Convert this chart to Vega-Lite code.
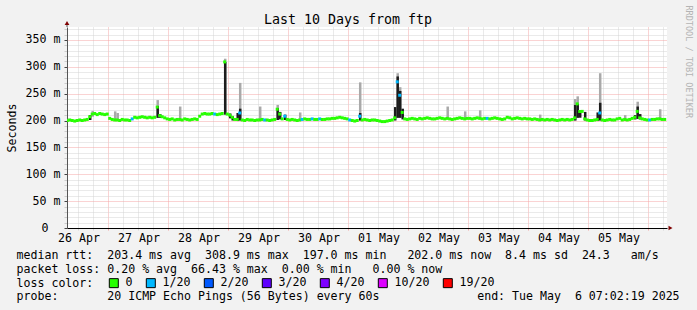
{
  "$schema": "https://vega.github.io/schema/vega-lite/v6.json",
  "width": 600,
  "height": 201,
  "autosize": {"type": "none"},
  "padding": {"left": 67, "top": 27, "right": 30, "bottom": 82},
  "background": "#f2f2f2",
  "config": {"view": {"stroke": null, "fill": "#ffffff"}, "font": "DejaVu Sans Mono"},
  "title": {"text": "Last 10 Days from ftp", "fontSize": 13.3, "fontWeight": "normal", "color": "#000000", "anchor": "middle", "dx": -19, "baseline": "alphabetic", "offset": -32},
  "data": {
    "format": {"parse": {"t": "utc:'%Y-%m-%d %H'"}},
    "values": [
      {"t":"2025-04-26 07","m":200,"l":"0"},{"t":"2025-04-26 08","m":201,"l":"0"},{"t":"2025-04-26 09","m":200,"l":"0"},{"t":"2025-04-26 10","m":199,"l":"0"},
      {"t":"2025-04-26 11","m":200,"l":"0"},{"t":"2025-04-26 12","m":201,"l":"0"},{"t":"2025-04-26 13","m":200,"l":"0"},{"t":"2025-04-26 14","m":201,"l":"0"},
      {"t":"2025-04-26 15","m":202,"l":"0"},{"t":"2025-04-26 16","m":207,"l":"0","lo":201,"d":210},{"t":"2025-04-26 17","m":212,"l":"0","lo":207,"g":218},
      {"t":"2025-04-26 18","m":213,"l":"0"},{"t":"2025-04-26 19","m":211,"l":"0"},{"t":"2025-04-26 20","m":213,"l":"0"},{"t":"2025-04-26 21","m":212,"l":"0"},
      {"t":"2025-04-26 22","m":211,"l":"0"},{"t":"2025-04-26 23","m":212,"l":"0"},
      {"t":"2025-04-27 00","m":204,"l":"0"},{"t":"2025-04-27 01","m":202,"l":"0"},{"t":"2025-04-27 02","m":201,"l":"0","lo":200,"g":217},{"t":"2025-04-27 03","m":201,"l":"0","lo":200,"g":214},
      {"t":"2025-04-27 04","m":200,"l":"0"},{"t":"2025-04-27 05","m":202,"l":"0"},{"t":"2025-04-27 06","m":201,"l":"0"},{"t":"2025-04-27 07","m":201,"l":"0"},
      {"t":"2025-04-27 08","m":200,"l":"0"},{"t":"2025-04-27 09","m":203,"l":"1/20"},{"t":"2025-04-27 10","m":206,"l":"0"},{"t":"2025-04-27 11","m":205,"l":"0"},
      {"t":"2025-04-27 12","m":206,"l":"0"},{"t":"2025-04-27 13","m":207,"l":"0"},{"t":"2025-04-27 14","m":206,"l":"0"},{"t":"2025-04-27 15","m":205,"l":"0"},
      {"t":"2025-04-27 16","m":206,"l":"0"},{"t":"2025-04-27 17","m":205,"l":"0"},{"t":"2025-04-27 18","m":206,"l":"0"},{"t":"2025-04-27 19","m":225,"l":"0","lo":205,"d":227,"g":238},
      {"t":"2025-04-27 20","m":209,"l":"0","lo":205,"d":212},{"t":"2025-04-27 21","m":207,"l":"0"},{"t":"2025-04-27 22","m":205,"l":"0"},{"t":"2025-04-27 23","m":203,"l":"0"},
      {"t":"2025-04-28 00","m":202,"l":"0"},{"t":"2025-04-28 01","m":203,"l":"0"},{"t":"2025-04-28 02","m":201,"l":"0"},{"t":"2025-04-28 03","m":202,"l":"0"},
      {"t":"2025-04-28 04","m":202,"l":"0","lo":201,"g":226},{"t":"2025-04-28 05","m":201,"l":"0"},{"t":"2025-04-28 06","m":203,"l":"0"},{"t":"2025-04-28 07","m":202,"l":"0"},
      {"t":"2025-04-28 08","m":201,"l":"0"},{"t":"2025-04-28 09","m":202,"l":"0"},{"t":"2025-04-28 10","m":203,"l":"0"},{"t":"2025-04-28 11","m":202,"l":"0"},
      {"t":"2025-04-28 12","m":208,"l":"0"},{"t":"2025-04-28 13","m":212,"l":"0"},{"t":"2025-04-28 14","m":213,"l":"0"},{"t":"2025-04-28 15","m":212,"l":"0"},
      {"t":"2025-04-28 16","m":212,"l":"0"},{"t":"2025-04-28 17","m":213,"l":"0"},{"t":"2025-04-28 18","m":212,"l":"1/20"},{"t":"2025-04-28 19","m":211,"l":"0"},
      {"t":"2025-04-28 20","m":212,"l":"0"},{"t":"2025-04-28 21","m":213,"l":"0"},{"t":"2025-04-28 22","m":309,"l":"0","lo":211,"d":309,"g":315},{"t":"2025-04-28 23","m":212,"l":"0"},
      {"t":"2025-04-29 00","m":210,"l":"0","lo":204,"d":213},{"t":"2025-04-29 01","m":206,"l":"0","lo":200,"d":208},{"t":"2025-04-29 02","m":202,"l":"0"},{"t":"2025-04-29 03","m":202,"l":"0","lo":199,"d":214},
      {"t":"2025-04-29 04","m":214,"l":"1/20","lo":200,"d":222,"g":270},{"t":"2025-04-29 05","m":201,"l":"0"},{"t":"2025-04-29 06","m":200,"l":"0"},{"t":"2025-04-29 07","m":202,"l":"0"},
      {"t":"2025-04-29 08","m":201,"l":"0"},{"t":"2025-04-29 09","m":201,"l":"0"},{"t":"2025-04-29 10","m":200,"l":"0"},{"t":"2025-04-29 11","m":201,"l":"0"},
      {"t":"2025-04-29 12","m":201,"l":"0","lo":200,"g":226},{"t":"2025-04-29 13","m":202,"l":"0"},{"t":"2025-04-29 14","m":201,"l":"1/20"},{"t":"2025-04-29 15","m":201,"l":"0"},
      {"t":"2025-04-29 16","m":200,"l":"0"},{"t":"2025-04-29 17","m":201,"l":"0"},{"t":"2025-04-29 18","m":202,"l":"0"},{"t":"2025-04-29 19","m":221,"l":"0","lo":201,"d":223,"g":229},
      {"t":"2025-04-29 20","m":212,"l":"0","lo":202,"d":216},{"t":"2025-04-29 21","m":203,"l":"0"},{"t":"2025-04-29 22","m":208,"l":"1/20","lo":201,"d":211},{"t":"2025-04-29 23","m":202,"l":"0"},
      {"t":"2025-04-30 00","m":201,"l":"0"},{"t":"2025-04-30 01","m":202,"l":"0"},{"t":"2025-04-30 02","m":201,"l":"0"},{"t":"2025-04-30 03","m":200,"l":"0"},
      {"t":"2025-04-30 04","m":201,"l":"0","lo":200,"g":215},{"t":"2025-04-30 05","m":202,"l":"1/20"},{"t":"2025-04-30 06","m":203,"l":"0"},{"t":"2025-04-30 07","m":202,"l":"0"},
      {"t":"2025-04-30 08","m":202,"l":"0"},{"t":"2025-04-30 09","m":203,"l":"1/20"},{"t":"2025-04-30 10","m":202,"l":"0"},{"t":"2025-04-30 11","m":202,"l":"0"},
      {"t":"2025-04-30 12","m":203,"l":"1/20"},{"t":"2025-04-30 13","m":202,"l":"0"},{"t":"2025-04-30 14","m":202,"l":"0"},{"t":"2025-04-30 15","m":203,"l":"0"},
      {"t":"2025-04-30 16","m":203,"l":"0"},{"t":"2025-04-30 17","m":204,"l":"0"},{"t":"2025-04-30 18","m":204,"l":"0"},{"t":"2025-04-30 19","m":205,"l":"0"},
      {"t":"2025-04-30 20","m":206,"l":"0"},{"t":"2025-04-30 21","m":205,"l":"0"},{"t":"2025-04-30 22","m":204,"l":"0"},{"t":"2025-04-30 23","m":203,"l":"0"},
      {"t":"2025-05-01 00","m":201,"l":"1/20"},{"t":"2025-05-01 01","m":200,"l":"0"},{"t":"2025-05-01 02","m":199,"l":"0"},{"t":"2025-05-01 03","m":200,"l":"0"},
      {"t":"2025-05-01 04","m":208,"l":"1/20","lo":200,"d":214,"g":271},{"t":"2025-05-01 05","m":201,"l":"0"},{"t":"2025-05-01 06","m":202,"l":"0"},{"t":"2025-05-01 07","m":201,"l":"0"},
      {"t":"2025-05-01 08","m":200,"l":"0"},{"t":"2025-05-01 09","m":201,"l":"0"},{"t":"2025-05-01 10","m":201,"l":"0"},{"t":"2025-05-01 11","m":200,"l":"0"},
      {"t":"2025-05-01 12","m":199,"l":"0"},{"t":"2025-05-01 13","m":198,"l":"0"},{"t":"2025-05-01 14","m":198,"l":"0"},{"t":"2025-05-01 15","m":199,"l":"0"},
      {"t":"2025-05-01 16","m":200,"l":"0"},{"t":"2025-05-01 17","m":201,"l":"0"},{"t":"2025-05-01 18","m":205,"l":"0","lo":200,"d":225},{"t":"2025-05-01 19","m":272,"l":"1/20","lo":205,"d":282,"g":288},
      {"t":"2025-05-01 20","m":247,"l":"1/20","lo":205,"d":255,"g":262},{"t":"2025-05-01 21","m":215,"l":"0","lo":202,"d":222},{"t":"2025-05-01 22","m":203,"l":"0"},{"t":"2025-05-01 23","m":202,"l":"0"},
      {"t":"2025-05-02 00","m":203,"l":"0"},{"t":"2025-05-02 01","m":204,"l":"0"},{"t":"2025-05-02 02","m":203,"l":"0"},{"t":"2025-05-02 03","m":202,"l":"0"},
      {"t":"2025-05-02 04","m":204,"l":"0"},{"t":"2025-05-02 05","m":203,"l":"0"},{"t":"2025-05-02 06","m":204,"l":"0"},{"t":"2025-05-02 07","m":205,"l":"0"},
      {"t":"2025-05-02 08","m":204,"l":"0"},{"t":"2025-05-02 09","m":203,"l":"0"},{"t":"2025-05-02 10","m":203,"l":"0"},{"t":"2025-05-02 11","m":204,"l":"0"},
      {"t":"2025-05-02 12","m":205,"l":"0"},{"t":"2025-05-02 13","m":204,"l":"0"},{"t":"2025-05-02 14","m":203,"l":"0"},{"t":"2025-05-02 15","m":204,"l":"0","lo":202,"g":226},
      {"t":"2025-05-02 16","m":203,"l":"0"},{"t":"2025-05-02 17","m":202,"l":"0"},{"t":"2025-05-02 18","m":203,"l":"0"},{"t":"2025-05-02 19","m":204,"l":"0"},
      {"t":"2025-05-02 20","m":205,"l":"0"},{"t":"2025-05-02 21","m":204,"l":"0"},{"t":"2025-05-02 22","m":203,"l":"0","lo":202,"g":217},{"t":"2025-05-02 23","m":204,"l":"0"},
      {"t":"2025-05-03 00","m":204,"l":"0"},{"t":"2025-05-03 01","m":203,"l":"0"},{"t":"2025-05-03 02","m":204,"l":"0"},{"t":"2025-05-03 03","m":205,"l":"0"},
      {"t":"2025-05-03 04","m":204,"l":"0","lo":202,"g":219},{"t":"2025-05-03 05","m":203,"l":"0"},{"t":"2025-05-03 06","m":204,"l":"0"},{"t":"2025-05-03 07","m":204,"l":"1/20"},
      {"t":"2025-05-03 08","m":203,"l":"0"},{"t":"2025-05-03 09","m":204,"l":"0"},{"t":"2025-05-03 10","m":205,"l":"0"},{"t":"2025-05-03 11","m":204,"l":"0"},
      {"t":"2025-05-03 12","m":203,"l":"0"},{"t":"2025-05-03 13","m":202,"l":"0"},{"t":"2025-05-03 14","m":203,"l":"0"},{"t":"2025-05-03 15","m":206,"l":"0"},
      {"t":"2025-05-03 16","m":205,"l":"0"},{"t":"2025-05-03 17","m":203,"l":"0"},{"t":"2025-05-03 18","m":204,"l":"0"},{"t":"2025-05-03 19","m":205,"l":"0"},
      {"t":"2025-05-03 20","m":204,"l":"0"},{"t":"2025-05-03 21","m":203,"l":"0"},{"t":"2025-05-03 22","m":204,"l":"0"},{"t":"2025-05-03 23","m":203,"l":"0"},
      {"t":"2025-05-04 00","m":203,"l":"0"},{"t":"2025-05-04 01","m":202,"l":"0"},{"t":"2025-05-04 02","m":203,"l":"0"},{"t":"2025-05-04 03","m":202,"l":"0"},
      {"t":"2025-05-04 04","m":201,"l":"0","lo":200,"g":211},{"t":"2025-05-04 05","m":202,"l":"0"},{"t":"2025-05-04 06","m":201,"l":"0"},{"t":"2025-05-04 07","m":202,"l":"0"},
      {"t":"2025-05-04 08","m":201,"l":"0"},{"t":"2025-05-04 09","m":202,"l":"0"},{"t":"2025-05-04 10","m":201,"l":"0"},{"t":"2025-05-04 11","m":200,"l":"0"},
      {"t":"2025-05-04 12","m":201,"l":"0"},{"t":"2025-05-04 13","m":202,"l":"0"},{"t":"2025-05-04 14","m":201,"l":"0"},{"t":"2025-05-04 15","m":202,"l":"0"},
      {"t":"2025-05-04 16","m":201,"l":"0"},{"t":"2025-05-04 17","m":202,"l":"0"},{"t":"2025-05-04 18","m":205,"l":"0","lo":200,"d":229,"g":240},{"t":"2025-05-04 19","m":231,"l":"0","lo":205,"d":231,"g":245},
      {"t":"2025-05-04 20","m":217,"l":"0","lo":205,"d":218},{"t":"2025-05-04 21","m":217,"l":"0"},{"t":"2025-05-04 22","m":203,"l":"0","lo":200,"d":216},{"t":"2025-05-04 23","m":201,"l":"0"},
      {"t":"2025-05-05 00","m":200,"l":"0"},{"t":"2025-05-05 01","m":200,"l":"0"},{"t":"2025-05-05 02","m":201,"l":"0"},{"t":"2025-05-05 03","m":202,"l":"0","lo":199,"d":215},
      {"t":"2025-05-05 04","m":214,"l":"1/20","lo":200,"d":233,"g":288},{"t":"2025-05-05 05","m":201,"l":"0"},{"t":"2025-05-05 06","m":200,"l":"0"},{"t":"2025-05-05 07","m":201,"l":"0"},
      {"t":"2025-05-05 08","m":202,"l":"0"},{"t":"2025-05-05 09","m":201,"l":"0"},{"t":"2025-05-05 10","m":201,"l":"0"},{"t":"2025-05-05 11","m":203,"l":"0"},
      {"t":"2025-05-05 12","m":204,"l":"0"},{"t":"2025-05-05 13","m":201,"l":"0"},{"t":"2025-05-05 14","m":202,"l":"0","lo":200,"g":210},{"t":"2025-05-05 15","m":201,"l":"0"},
      {"t":"2025-05-05 16","m":202,"l":"0"},{"t":"2025-05-05 17","m":204,"l":"0"},{"t":"2025-05-05 18","m":206,"l":"0","lo":202,"d":210},{"t":"2025-05-05 19","m":217,"l":"0","lo":203,"d":226,"g":235},
      {"t":"2025-05-05 20","m":205,"l":"0","lo":202,"d":212},{"t":"2025-05-05 21","m":203,"l":"0"},{"t":"2025-05-05 22","m":202,"l":"0"},{"t":"2025-05-05 23","m":201,"l":"0"},
      {"t":"2025-05-06 00","m":201,"l":"1/20"},{"t":"2025-05-06 01","m":202,"l":"0"},{"t":"2025-05-06 02","m":202,"l":"0"},{"t":"2025-05-06 03","m":203,"l":"0"},
      {"t":"2025-05-06 04","m":203,"l":"0","lo":201,"g":221},{"t":"2025-05-06 05","m":202,"l":"0"},{"t":"2025-05-06 06","m":202,"l":"0"}
    ]
  },
  "layer": [
    {
      "mark": {"type": "bar", "color": "#a9a9a9", "binSpacing": 0, "clip": true},
      "encoding": {
        "x": {
          "field": "t", "type": "temporal", "timeUnit": "utcyearmonthdatehours",
          "scale": {"type": "utc", "domain": [{"year": 2025, "month": 4, "date": 26, "hours": 7, "minutes": 25, "utc": true}, {"year": 2025, "month": 5, "date": 6, "hours": 7, "minutes": 25, "utc": true}]},
          "axis": {
            "orient": "bottom",
            "tickCount": 40,
            "grid": true, "labels": false, "domain": false, "title": null,
            "tickSize": 2,
            "tickColor": {"condition": {"test": "utchours(datum.value) == 0", "value": "#f4a6a6"}, "value": "#d4d4d4"},
            "gridColor": {"condition": {"test": "utchours(datum.value) == 0", "value": "#f4a6a6"}, "value": "#d4d4d4"},
            "gridDash": [1, 1], "gridOpacity": 1
          }
        },
        "y": {
          "field": "g", "type": "quantitative",
          "scale": {"domain": [0, 374], "nice": false, "zero": true},
          "axis": {
            "values": [0,10,20,30,40,50,60,70,80,90,100,110,120,130,140,150,160,170,180,190,200,210,220,230,240,250,260,270,280,290,300,310,320,330,340,350,360,370],
            "labelExpr": "datum.value % 50 ? '' : (datum.value == 0 ? '0' : datum.value + '\u00a0m')",
            "labelFontSize": 11.6, "labelColor": "#000000", "labelOverlap": false,
            "labelPadding": {"condition": {"test": "datum.value == 0", "value": 16}, "value": 4},
            "tickSize": 3,
            "tickColor": {"condition": {"test": "datum.value % 50 == 0", "value": "#444444"}, "value": "#cccccc"},
            "grid": true,
            "gridColor": {"condition": {"test": "datum.value % 50 == 0", "value": "#f4a6a6"}, "value": "#d4d4d4"},
            "gridDash": [1, 1], "gridOpacity": 1,
            "domainColor": "#555555",
            "title": "Seconds", "titleFontSize": 11.6, "titleFontWeight": "normal", "titleColor": "#000000",
            "titleX": -52, "titleY": 100.5, "titleAngle": 270, "titleAlign": "center", "titleBaseline": "alphabetic"
          }
        },
        "y2": {"field": "lo"}
      }
    },
    {
      "mark": {"type": "bar", "color": "#1c1c1c", "binSpacing": 0, "clip": true},
      "encoding": {
        "x": {
          "field": "t", "type": "temporal", "timeUnit": "utcyearmonthdatehours",
          "axis": {
            "orient": "bottom",
            "tickCount": 40,
            "grid": false, "ticks": false, "domain": true, "domainColor": "#000000",
            "labelExpr": "utchours(datum.value) == 12 ? utcFormat(datum.value, '%d %b') : ''",
            "labelOverlap": false, "labelFlush": false, "labelFontSize": 11.6, "labelColor": "#000000", "labelPadding": 4,
            "title": [
              "median\u00a0rtt:\u00a0\u00a0203.4\u00a0ms\u00a0avg\u00a0\u00a0308.9\u00a0ms\u00a0max\u00a0\u00a0197.0\u00a0ms\u00a0min\u00a0\u00a0\u00a0202.0\u00a0ms\u00a0now\u00a0\u00a08.4\u00a0ms\u00a0sd\u00a0\u00a024.3\u00a0\u00a0\u00a0am/s",
              "packet\u00a0loss:\u00a00.20\u00a0%\u00a0avg\u00a0\u00a066.43\u00a0%\u00a0max\u00a0\u00a00.00\u00a0%\u00a0min\u00a0\u00a0\u00a00.00\u00a0%\u00a0now",
              "loss\u00a0color:",
              "probe:\u00a0\u00a0\u00a0\u00a0\u00a0\u00a0\u00a020\u00a0ICMP\u00a0Echo\u00a0Pings\u00a0(56\u00a0Bytes)\u00a0every\u00a060s\u00a0\u00a0\u00a0\u00a0\u00a0\u00a0\u00a0\u00a0\u00a0\u00a0\u00a0\u00a0\u00a0\u00a0end:\u00a0Tue\u00a0May\u00a0\u00a06\u00a007:02:19\u00a02025"
            ],
            "titleFontSize": 11.6, "titleFontWeight": "normal", "titleColor": "#000000",
            "titleX": -51, "titleY": 30.5, "titleAlign": "left", "titleBaseline": "alphabetic", "titleAngle": 0,
            "titleLineHeight": 13.75, "titleLimit": 1000
          }
        },
        "y": {"field": "d", "type": "quantitative", "axis": null},
        "y2": {"field": "lo"}
      }
    },
    {
      "mark": {"type": "tick", "orient": "horizontal", "size": 3, "thickness": 3, "opacity": 1, "clip": true},
      "encoding": {
        "x": {"field": "t", "type": "temporal", "timeUnit": "utcyearmonthdatehours", "bandPosition": 0.5, "axis": null},
        "y": {
          "field": "m", "type": "quantitative",
          "axis": {
            "orient": "right", "labels": false, "ticks": false, "domain": false, "grid": false,
            "title": "RRDTOOL / TOBI OETIKER", "titleFontSize": 8.5, "titleFontWeight": "normal", "titleColor": "#b4b4b4",
            "titleAngle": 90, "titleX": 21, "titleY": -22, "titleAlign": "left", "titleBaseline": "middle"
          }
        },
        "color": {
          "field": "l", "type": "nominal",
          "scale": {"domain": ["0", "1/20", "2/20", "3/20", "4/20", "10/20", "19/20"], "range": ["#26ff00", "#00b8ff", "#0059ff", "#5e00ff", "#7e00ff", "#dd00ff", "#ff0000"]},
          "legend": {
            "title": null, "orient": "none", "legendX": 41, "legendY": 250, "direction": "horizontal",
            "labelFontSize": 11.6, "labelColor": "#000000", "labelOffset": 6, "columnPadding": 11,
            "symbolType": "square", "symbolSize": 81, "symbolStrokeColor": "#000000", "symbolStrokeWidth": 1, "symbolOpacity": 1, "padding": 0
          }
        }
      }
    },
    {
      "data": {"values": [{}]},
      "mark": {"type": "rule", "color": "#555555"},
      "encoding": {
        "x": {"datum": {"year": 2025, "month": 4, "date": 26, "hours": 7, "minutes": 25, "utc": true}, "type": "temporal", "axis": null},
        "y": {"datum": 374, "type": "quantitative", "axis": null},
        "y2": {"datum": 380}
      }
    },
    {
      "data": {"values": [{}]},
      "mark": {"type": "point", "shape": "triangle-up", "filled": true, "size": 22, "color": "#7f0000", "opacity": 1},
      "encoding": {
        "x": {"datum": {"year": 2025, "month": 4, "date": 26, "hours": 7, "minutes": 25, "utc": true}, "type": "temporal", "axis": null},
        "y": {"datum": 381.5, "type": "quantitative", "axis": null}
      }
    },
    {
      "data": {"values": [{}]},
      "mark": {"type": "point", "shape": "triangle-right", "filled": true, "size": 22, "color": "#7f0000", "opacity": 1},
      "encoding": {
        "x": {"datum": {"year": 2025, "month": 5, "date": 6, "hours": 8, "minutes": 49, "utc": true}, "type": "temporal", "axis": null},
        "y": {"datum": 0, "type": "quantitative", "axis": null}
      }
    }
  ],
  "resolve": {"axis": {"x": "independent", "y": "independent"}}
}
